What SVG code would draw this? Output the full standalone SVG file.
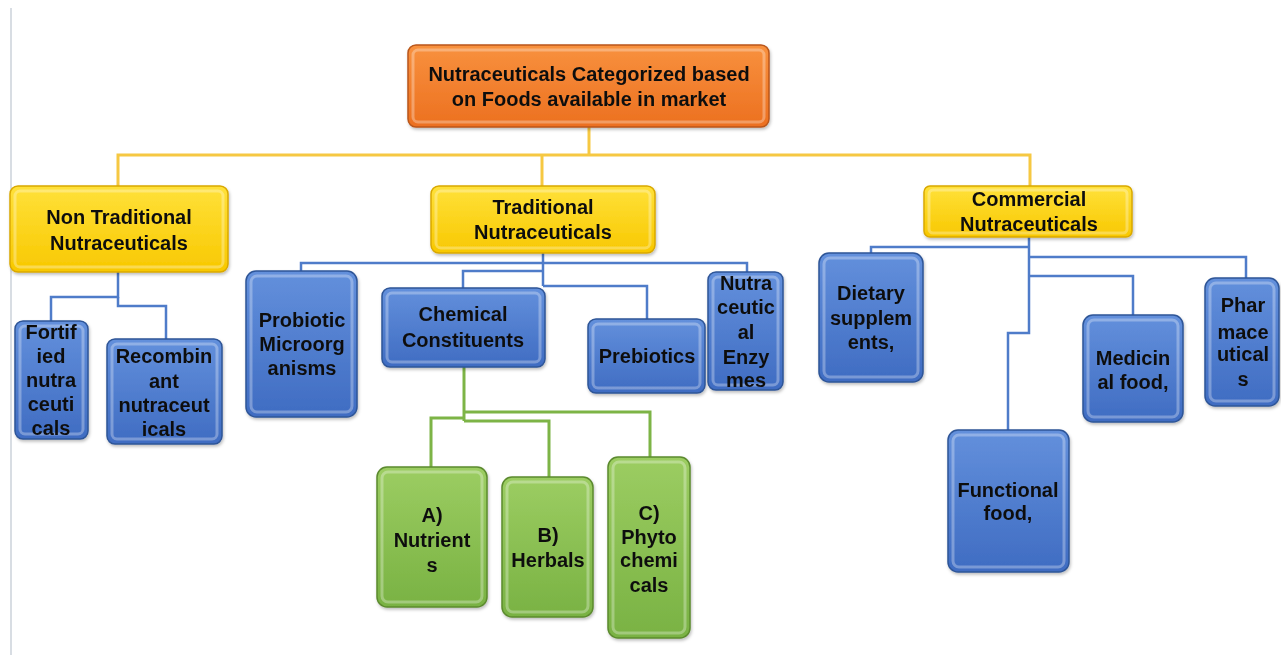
<svg xmlns="http://www.w3.org/2000/svg" width="1281" height="655" viewBox="0 0 1281 655">
<style>
text{font-family:"Liberation Sans",Arial,sans-serif;font-weight:bold;font-size:20px;fill:#111;text-anchor:middle}
.o{stroke-width:1.5}
.blue .o{fill:url(#gb);stroke:#2E5597}
.green .o{fill:url(#gg);stroke:#5B8A2E}
.yellow .o{fill:url(#gy);stroke:#D9A800}
.orange .o{fill:url(#go);stroke:#B9561A}
.hl{fill:none;stroke:#fff;stroke-opacity:.3;stroke-width:3}
.cy{fill:none;stroke:#F6C842;stroke-width:3}
.cb{fill:none;stroke:#4F7CC9;stroke-width:2.5}
.cg{fill:none;stroke:#7DB446;stroke-width:3}
</style>
<defs>
<linearGradient id="gb" x1="0" y1="0" x2="0" y2="1"><stop offset="0" stop-color="#6390DC"/><stop offset="1" stop-color="#3F6CC2"/></linearGradient>
<linearGradient id="gg" x1="0" y1="0" x2="0" y2="1"><stop offset="0" stop-color="#9CCD62"/><stop offset="1" stop-color="#79B243"/></linearGradient>
<linearGradient id="gy" x1="0" y1="0" x2="0" y2="1"><stop offset="0" stop-color="#FFE13A"/><stop offset="1" stop-color="#F8C800"/></linearGradient>
<linearGradient id="go" x1="0" y1="0" x2="0" y2="1"><stop offset="0" stop-color="#F8913E"/><stop offset="1" stop-color="#EC7020"/></linearGradient>
<filter id="sh" x="-10%" y="-10%" width="120%" height="120%"><feDropShadow dx="1" dy="2" stdDeviation="1.5" flood-color="#000" flood-opacity=".25"/></filter>
</defs>
<rect width="1281" height="655" fill="#fff"/>
<line x1="11" y1="8" x2="11" y2="655" stroke="#D8DDE3" stroke-width="2"/>

<g id="connectors">
<polyline class="cy" points="589,127 589,155"/>
<polyline class="cy" points="118,186 118,155 1030,155 1030,186"/>
<polyline class="cy" points="542,155 542,186"/>

<polyline class="cb" points="118,272 118,297 51,297 51,321"/>
<polyline class="cb" points="118,297 118,306 166,306 166,339"/>

<polyline class="cb" points="543,253 543,286"/>
<polyline class="cb" points="301,271 301,263 747,263 747,272"/>
<polyline class="cb" points="543,271 463,271 463,288"/>
<polyline class="cb" points="543,286 647,286 647,319"/>

<polyline class="cg" points="464,367 464,421"/>
<polyline class="cg" points="464,412 650,412 650,457"/>
<polyline class="cg" points="464,418 431,418 431,467"/>
<polyline class="cg" points="464,421 549,421 549,477"/>

<polyline class="cb" points="1029,237 1029,333 1008,333 1008,430"/>
<polyline class="cb" points="1029,247 871,247 871,253"/>
<polyline class="cb" points="1029,257 1246,257 1246,278"/>
<polyline class="cb" points="1029,276 1133,276 1133,315"/>
</g>

<g id="root" class="orange" filter="url(#sh)">
<rect class="o" x="408" y="45" width="361" height="82" rx="8"/>
<rect class="hl" x="413" y="50" width="351" height="72" rx="5"/>
<text x="589" y="81">Nutraceuticals Categorized based</text>
<text x="589" y="106">on Foods available in market</text>
</g>

<g id="non-traditional" class="yellow" filter="url(#sh)">
<rect class="o" x="10" y="186" width="218" height="86" rx="8"/>
<rect class="hl" x="15" y="191" width="208" height="76" rx="5"/>
<text x="119" y="224">Non Traditional</text>
<text x="119" y="250">Nutraceuticals</text>
</g>

<g id="traditional" class="yellow" filter="url(#sh)">
<rect class="o" x="431" y="186" width="224" height="67" rx="8"/>
<rect class="hl" x="436" y="191" width="214" height="57" rx="5"/>
<text x="543" y="214">Traditional</text>
<text x="543" y="239">Nutraceuticals</text>
</g>

<g id="commercial" class="yellow" filter="url(#sh)">
<rect class="o" x="924" y="186" width="208" height="51" rx="6"/>
<rect class="hl" x="929" y="190" width="198" height="43" rx="4"/>
<text x="1029" y="206">Commercial</text>
<text x="1029" y="231">Nutraceuticals</text>
</g>

<g id="fortified" class="blue" filter="url(#sh)">
<rect class="o" x="15" y="321" width="73" height="118" rx="8"/>
<rect class="hl" x="20" y="326" width="63" height="108" rx="5"/>
<text x="51" y="339">Fortif</text>
<text x="51" y="363">ied</text>
<text x="51" y="387">nutra</text>
<text x="51" y="411">ceuti</text>
<text x="51" y="435">cals</text>
</g>

<g id="recombinant" class="blue" filter="url(#sh)">
<rect class="o" x="107" y="339" width="115" height="105" rx="8"/>
<rect class="hl" x="112" y="344" width="105" height="95" rx="5"/>
<text x="164" y="363">Recombin</text>
<text x="164" y="388">ant</text>
<text x="164" y="412">nutraceut</text>
<text x="164" y="436">icals</text>
</g>

<g id="probiotic" class="blue" filter="url(#sh)">
<rect class="o" x="246" y="271" width="111" height="146" rx="10"/>
<rect class="hl" x="251" y="276" width="101" height="136" rx="6"/>
<text x="302" y="327">Probiotic</text>
<text x="302" y="351">Microorg</text>
<text x="302" y="375">anisms</text>
</g>

<g id="chemical" class="blue" filter="url(#sh)">
<rect class="o" x="382" y="288" width="163" height="79" rx="8"/>
<rect class="hl" x="387" y="293" width="153" height="69" rx="5"/>
<text x="463" y="321">Chemical</text>
<text x="463" y="347">Constituents</text>
</g>

<g id="prebiotics" class="blue" filter="url(#sh)">
<rect class="o" x="588" y="319" width="117" height="74" rx="8"/>
<rect class="hl" x="593" y="324" width="107" height="64" rx="5"/>
<text x="647" y="363">Prebiotics</text>
</g>

<g id="enzymes" class="blue" filter="url(#sh)">
<rect class="o" x="708" y="272" width="75" height="118" rx="8"/>
<rect class="hl" x="713" y="277" width="65" height="108" rx="5"/>
<text x="746" y="290">Nutra</text>
<text x="746" y="314">ceutic</text>
<text x="746" y="339">al</text>
<text x="746" y="364">Enzy</text>
<text x="746" y="387">mes</text>
</g>

<g id="nutrients" class="green" filter="url(#sh)">
<rect class="o" x="377" y="467" width="110" height="140" rx="10"/>
<rect class="hl" x="382" y="472" width="100" height="130" rx="6"/>
<text x="432" y="522">A)</text>
<text x="432" y="547">Nutrient</text>
<text x="432" y="572">s</text>
</g>

<g id="herbals" class="green" filter="url(#sh)">
<rect class="o" x="502" y="477" width="91" height="140" rx="10"/>
<rect class="hl" x="507" y="482" width="81" height="130" rx="6"/>
<text x="548" y="542">B)</text>
<text x="548" y="567">Herbals</text>
</g>

<g id="phytochemicals" class="green" filter="url(#sh)">
<rect class="o" x="608" y="457" width="82" height="181" rx="10"/>
<rect class="hl" x="613" y="462" width="72" height="171" rx="6"/>
<text x="649" y="520">C)</text>
<text x="649" y="544">Phyto</text>
<text x="649" y="567">chemi</text>
<text x="649" y="592">cals</text>
</g>

<g id="dietary" class="blue" filter="url(#sh)">
<rect class="o" x="819" y="253" width="104" height="129" rx="10"/>
<rect class="hl" x="824" y="258" width="94" height="119" rx="6"/>
<text x="871" y="300">Dietary</text>
<text x="871" y="325">supplem</text>
<text x="871" y="349">ents,</text>
</g>

<g id="functional" class="blue" filter="url(#sh)">
<rect class="o" x="948" y="430" width="121" height="142" rx="10"/>
<rect class="hl" x="953" y="435" width="111" height="132" rx="6"/>
<text x="1008" y="497">Functional</text>
<text x="1008" y="520">food,</text>
</g>

<g id="medicinal" class="blue" filter="url(#sh)">
<rect class="o" x="1083" y="315" width="100" height="107" rx="10"/>
<rect class="hl" x="1088" y="320" width="90" height="97" rx="6"/>
<text x="1133" y="365">Medicin</text>
<text x="1133" y="389">al food,</text>
</g>

<g id="pharmaceuticals" class="blue" filter="url(#sh)">
<rect class="o" x="1205" y="278" width="74" height="128" rx="10"/>
<rect class="hl" x="1210" y="283" width="64" height="118" rx="6"/>
<text x="1243" y="312">Phar</text>
<text x="1243" y="339">mace</text>
<text x="1243" y="361">utical</text>
<text x="1243" y="386">s</text>
</g>
</svg>
